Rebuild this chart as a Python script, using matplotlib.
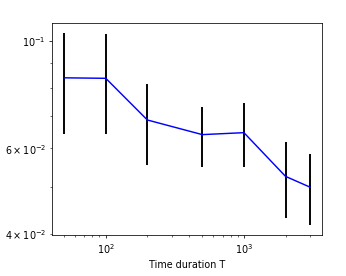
import matplotlib
matplotlib.use("Agg")
import matplotlib.pyplot as plt

T = [50, 100, 200, 500, 1000, 2000, 3000]
mean = [0.0838, 0.0836, 0.0686, 0.0640, 0.0646, 0.0525, 0.0499]
upper = [0.1037, 0.1034, 0.0815, 0.0729, 0.0744, 0.0618, 0.0583]
lower = [0.0641, 0.0641, 0.0555, 0.0550, 0.0550, 0.0431, 0.0416]

err_lo = [m - l for m, l in zip(mean, lower)]
err_hi = [u - m for m, u in zip(mean, upper)]

fig = plt.figure(figsize=(5, 4), dpi=69.2)
ax = fig.add_axes([0.150, 0.148, 0.781, 0.765])
ax.errorbar(T, mean, yerr=[err_lo, err_hi], color='blue', ecolor='black',
            elinewidth=2, lw=1.5)
ax.set_xscale('log')
ax.set_yscale('log')
ax.set_xlabel('Time duration T')
fig.savefig('out.png', dpi=69.2)
